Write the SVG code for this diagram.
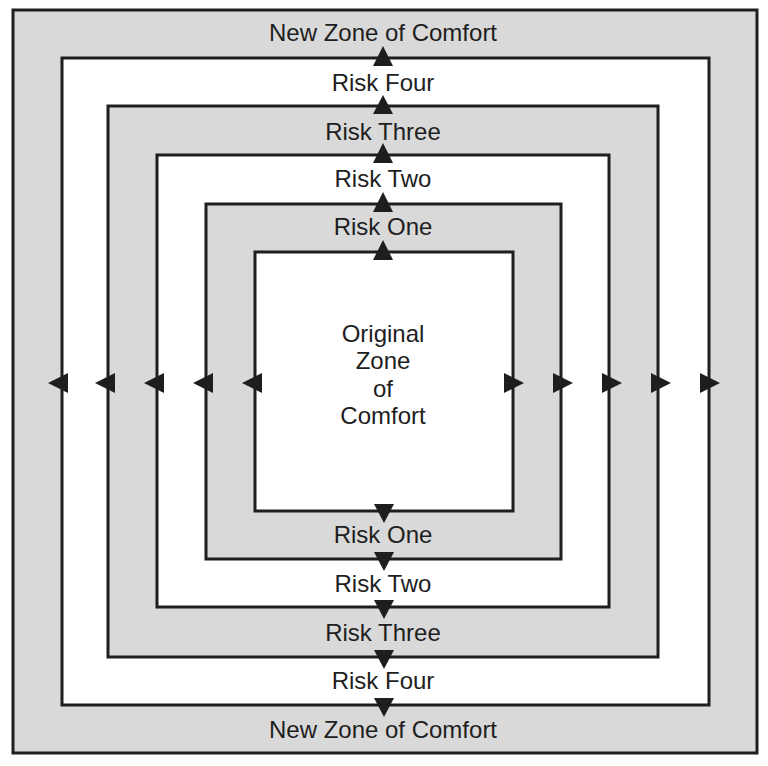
<svg xmlns="http://www.w3.org/2000/svg" width="768" height="766" viewBox="0 0 768 766">
<style>
.g{fill:#d9d9d9;stroke:#1e1e1e;stroke-width:3}
.w{fill:#ffffff;stroke:#1e1e1e;stroke-width:3}
.a{fill:#1e1e1e}
text{font-family:"Liberation Sans",Arial,sans-serif;font-size:24px;fill:#1e1e1e;text-anchor:middle}
</style>
<rect width="768" height="766" fill="#ffffff"/>
<g id="zone-new"><rect class="g" x="13" y="10" width="744" height="743"/>
<text x="383" y="41">New Zone of Comfort</text><text x="383" y="738">New Zone of Comfort</text></g>
<g id="zone-risk4"><rect class="w" x="62" y="58" width="647" height="647"/>
<text x="383" y="91">Risk Four</text><text x="383" y="689">Risk Four</text></g>
<g id="zone-risk3"><rect class="g" x="108" y="106" width="550" height="551"/>
<text x="383" y="140">Risk Three</text><text x="383" y="641">Risk Three</text></g>
<g id="zone-risk2"><rect class="w" x="157" y="155" width="452" height="452"/>
<text x="383" y="187">Risk Two</text><text x="383" y="592">Risk Two</text></g>
<g id="zone-risk1"><rect class="g" x="206" y="204" width="355" height="355"/>
<text x="383" y="235">Risk One</text><text x="383" y="543">Risk One</text></g>
<g id="zone-original"><rect class="w" x="255" y="252" width="258" height="259"/>
<text x="383" y="342">Original</text><text x="383" y="369">Zone</text><text x="383" y="397">of</text><text x="383" y="424">Comfort</text></g>
<g id="connectors">
<polygon class="a" points="383,46 373,66 393,66"/>
<polygon class="a" points="383,95 373,114 393,114"/>
<polygon class="a" points="383,143 373,163 393,163"/>
<polygon class="a" points="383,192 373,212 393,212"/>
<polygon class="a" points="383,240 373,260 393,260"/>
<polygon class="a" points="384,523 374,504 394,504"/>
<polygon class="a" points="384,571 374,552 394,552"/>
<polygon class="a" points="384,619 374,600 394,600"/>
<polygon class="a" points="384,669 374,650 394,650"/>
<polygon class="a" points="384,717 374,698 394,698"/>
<polygon class="a" points="48,383 68,373 68,393"/>
<polygon class="a" points="95,383 115,373 115,393"/>
<polygon class="a" points="144,383 164,373 164,393"/>
<polygon class="a" points="193,383 213,373 213,393"/>
<polygon class="a" points="242,383 262,373 262,393"/>
<polygon class="a" points="524,383 504,373 504,393"/>
<polygon class="a" points="573,383 553,373 553,393"/>
<polygon class="a" points="622,383 602,373 602,393"/>
<polygon class="a" points="671,383 651,373 651,393"/>
<polygon class="a" points="720,383 700,373 700,393"/>
</g>
</svg>
